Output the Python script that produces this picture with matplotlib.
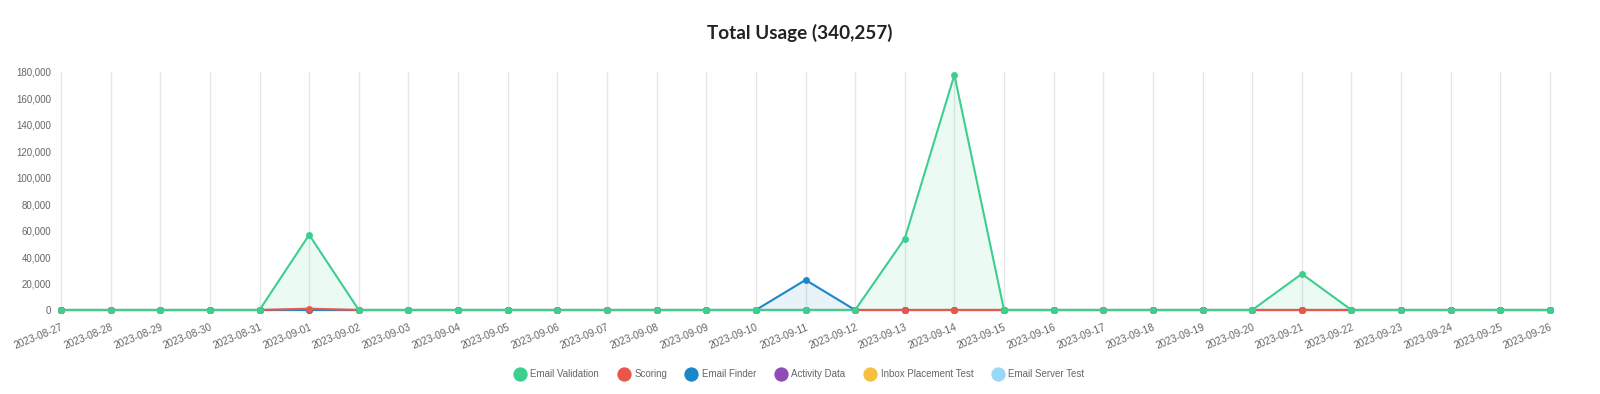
import matplotlib
matplotlib.use("Agg")
import matplotlib.pyplot as plt
from matplotlib.lines import Line2D

dates = ["2023-08-27", "2023-08-28", "2023-08-29", "2023-08-30", "2023-08-31",
         "2023-09-01", "2023-09-02", "2023-09-03", "2023-09-04", "2023-09-05",
         "2023-09-06", "2023-09-07", "2023-09-08", "2023-09-09", "2023-09-10",
         "2023-09-11", "2023-09-12", "2023-09-13", "2023-09-14", "2023-09-15",
         "2023-09-16", "2023-09-17", "2023-09-18", "2023-09-19", "2023-09-20",
         "2023-09-21", "2023-09-22", "2023-09-23", "2023-09-24", "2023-09-25",
         "2023-09-26"]

email_validation = [0, 0, 0, 0, 0, 56800, 0, 0, 0, 0, 0, 0, 0, 0, 0, 0, 0, 54000,
                    177600, 0, 0, 0, 0, 0, 0, 27300, 0, 0, 0, 0, 0]
scoring = [0, 0, 0, 0, 0, 1000, 0, 0, 0, 0, 0, 0, 0, 0, 0, 0, 0, 0,
           0, 0, 0, 0, 0, 0, 0, 0, 0, 0, 0, 0, 0]
email_finder = [0, 0, 0, 0, 0, 0, 0, 0, 0, 0, 0, 0, 0, 0, 0, 22700, 0, 0,
                0, 0, 0, 0, 0, 0, 0, 0, 0, 0, 0, 0, 0]
activity_data = [0] * 31
inbox_placement = [0] * 31
email_server = [0] * 31

series_names = ["Email Validation", "Scoring", "Email Finder", "Activity Data",
                "Inbox Placement Test", "Email Server Test"]
series_values = [email_validation, scoring, email_finder, activity_data,
                 inbox_placement, email_server]
colors = ["#3ccf8e", "#e8574a", "#1a87c8", "#8e4db5", "#f5c13e", "#9bd8f8"]
title = "Total Usage (340,257)"

plt.rcParams["font.family"] = ["Liberation Sans", "DejaVu Sans"]

fig = plt.figure(figsize=(16, 3.94), dpi=100)
ax = fig.add_axes([61 / 1600, 84 / 394, (1550 - 61) / 1600, (310 - 71.7) / 394])

x = list(range(len(dates)))
# Draw in reverse so the first dataset ends on top (like Chart.js)
for i in reversed(range(len(series_names))):
    vals = series_values[i]
    c = colors[i]
    ax.fill_between(x, 0, vals, color=c, alpha=0.1, linewidth=0, zorder=2 + (6 - i))
    ax.plot(x, vals, color=c, linewidth=1.5, marker="o", markersize=5,
            markeredgewidth=0, clip_on=False, zorder=3 + (6 - i) * 2)

ax.set_xlim(0, len(dates) - 1)
ax.set_ylim(0, 180000)
ax.set_yticks(range(0, 180001, 20000))
ax.set_yticklabels([f"{v:,}" for v in range(0, 180001, 20000)])
ax.set_xticks(x)
ax.set_xticklabels(dates, rotation=22, ha="right", rotation_mode="anchor")

ax.grid(axis="x", color="#e6e6e6", linewidth=1)
ax.grid(axis="y", visible=False)
for gl in ax.get_xgridlines():
    gl.set_clip_on(False)
ax.set_axisbelow(True)
for s in ax.spines.values():
    s.set_visible(False)
ax.tick_params(axis="both", length=0, labelcolor="#666666")
ax.tick_params(axis="y", pad=7, labelsize=7)
ax.tick_params(axis="x", pad=9, labelsize=7.3)

fig.text(0.5, 1 - 33 / 394, title, ha="center", va="center", fontsize=13.6,
         fontweight="bold", color="#222222", family="Lato")

handles = [Line2D([], [], linestyle="none", marker="o", markersize=10.3,
                  markerfacecolor=c, markeredgewidth=0) for c in colors]
fig.legend(handles, series_names, loc="center", bbox_to_anchor=(0.499, 1 - 374 / 394),
           ncol=6, frameon=False, fontsize=7, labelcolor="#666666",
           handletextpad=0.35, columnspacing=1.75, handlelength=1.5)

fig.savefig("out.png", dpi=100)
